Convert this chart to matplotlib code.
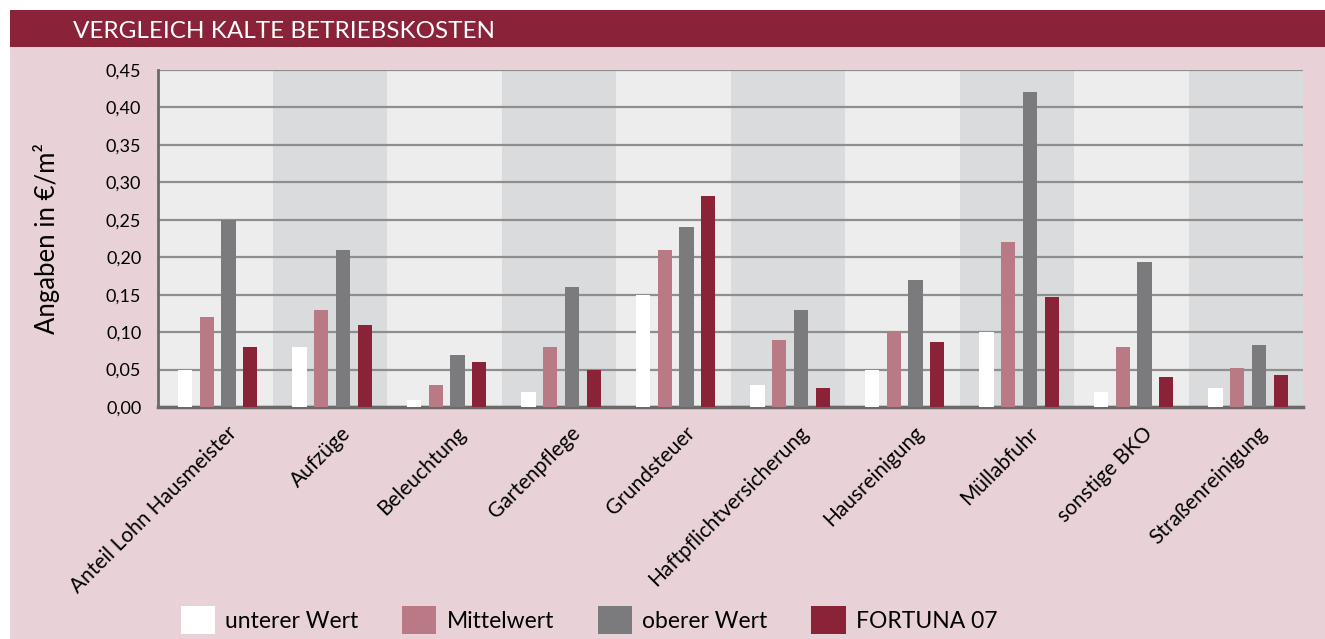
import numpy as np
import matplotlib
matplotlib.use('Agg')
import matplotlib.pyplot as plt
from matplotlib.patches import Rectangle, Patch
from matplotlib.transforms import ScaledTranslation

plt.rcParams['font.family'] = ['Lato', 'DejaVu Sans']

kategorien = ['Anteil Lohn Hausmeister', 'Aufzüge', 'Beleuchtung', 'Gartenpflege',
              'Grundsteuer', 'Haftpflichtversicherung', 'Hausreinigung', 'Müllabfuhr',
              'sonstige BKO', 'Straßenreinigung']
unterer = [0.05, 0.08, 0.01, 0.02, 0.15, 0.03, 0.05, 0.10, 0.02, 0.025]
mittel = [0.12, 0.13, 0.03, 0.08, 0.21, 0.09, 0.10, 0.22, 0.08, 0.052]
oberer = [0.25, 0.21, 0.07, 0.16, 0.24, 0.13, 0.17, 0.42, 0.193, 0.083]
fortuna = [0.08, 0.11, 0.06, 0.05, 0.282, 0.025, 0.087, 0.147, 0.04, 0.043]
serien = ['unterer Wert', 'Mittelwert', 'oberer Wert', 'FORTUNA 07']
farben = ['#FFFFFF', '#B97A86', '#7B7B7D', '#8A2238']
yticks = [0.0, 0.05, 0.10, 0.15, 0.20, 0.25, 0.30, 0.35, 0.40, 0.45]

W, H = 1325, 639
fig = plt.figure(figsize=(W / 100, H / 100), dpi=100)
fig.patch.set_facecolor('white')

# Hintergrund und Titelleiste
fig.patches.append(Rectangle((10 / W, 0), 1 - 10 / W, 1 - 47 / H, transform=fig.transFigure,
                             facecolor='#E8D2D7', edgecolor='none', zorder=-5))
fig.patches.append(Rectangle((10 / W, 1 - 47 / H), 1 - 10 / W, 37 / H, transform=fig.transFigure,
                             facecolor='#8A2339', edgecolor='none', zorder=-5))
fig.text(73 / W, 1 - 31 / H, 'VERGLEICH KALTE BETRIEBSKOSTEN', color='white',
         fontsize=17.5, va='center', ha='left')

ax = fig.add_axes([158 / W, 1 - 407 / H, (1303 - 158) / W, (407 - 70) / H])
ax.set_zorder(2)
ax.set_facecolor('#ECEDEC')

x = np.arange(len(kategorien))
for i in x:
    ax.axvspan(i - 0.5, i + 0.5, color='#ECEDEC' if i % 2 == 0 else '#DADBDD', zorder=0, lw=0)

breite = 0.125
abstand = 0.19
werte = [unterer, mittel, oberer, fortuna]
for k, (w, f) in enumerate(zip(werte, farben)):
    ax.bar(x + 0.02 + (k - 1.5) * abstand, w, width=breite, color=f, zorder=3, linewidth=0)

ax.set_xlim(-0.5, len(kategorien) - 0.5)
ax.set_ylim(0, 0.45)
ax.set_yticks(yticks)
ax.set_yticklabels([f'{v:.2f}'.replace('.', ',') for v in yticks], fontsize=13)
ax.yaxis.grid(True, color='#8E8E8E', linewidth=1.6, zorder=1)
ax.set_axisbelow(True)
ax.tick_params(axis='y', length=0, pad=12)
ax.tick_params(axis='x', length=0)

for s in ['top', 'right']:
    ax.spines[s].set_visible(False)
ax.spines['left'].set_color('#6A6A6A')
ax.spines['left'].set_linewidth(2)
ax.spines['bottom'].set_color('#6A6A6A')
ax.spines['bottom'].set_linewidth(2.5)

ax.set_xticks(x)
ax.set_xticklabels(kategorien, rotation=45, ha='right', va='center',
                   rotation_mode='anchor', fontsize=15)
verschiebung = ScaledTranslation(13 / 72, -13 / 72, fig.dpi_scale_trans)
for lab in ax.get_xticklabels():
    lab.set_transform(lab.get_transform() + verschiebung)

ax.set_ylabel('Angaben in €/m²', fontsize=18.5, labelpad=33)

handles = [Patch(facecolor=f, edgecolor='none') for f in farben]
fig.legend(handles, serien, loc='lower left', bbox_to_anchor=(160 / W, -0.025), ncol=4,
           frameon=False, fontsize=16.5, handlelength=1.5, handleheight=1.5,
           handletextpad=0.45, columnspacing=1.9)

fig.savefig('out.png', dpi=100, facecolor=fig.get_facecolor())
